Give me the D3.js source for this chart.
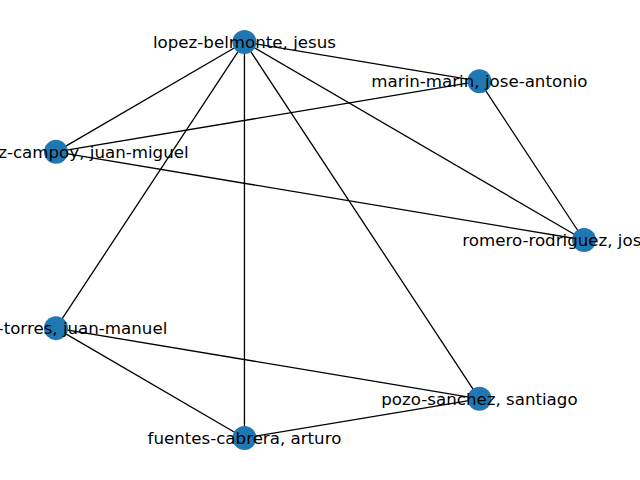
<!DOCTYPE html>
<html>
<head>
<meta charset="utf-8">
<script src="https://cdn.jsdelivr.net/npm/d3@7"></script>
<style>
  body { margin: 0; background: #fff; }
  text { font-family: "DejaVu Sans", sans-serif; font-size: 16.67px; }
</style>
</head>
<body>
<div id="my_graph"></div>
<script>
// nodes (circular layout positions)
const names = [
  "romero-rodriguez, jose-maria",
  "marin-marin, jose-antonio",
  "lopez-belmonte, jesus",
  "fernandez-campoy, juan-miguel",
  "trujillo-torres, juan-manuel",
  "fuentes-cabrera, arturo",
  "pozo-sanchez, santiago"
];
const nodeX = [1.0, 0.6235, -0.2225, -0.9010, -0.9010, -0.2225, 0.6235];
const nodeY = [0.0, 0.7818, 0.9749, 0.4339, -0.4339, -0.9749, -0.7818];

// edges
const edgeSource = [
  "lopez-belmonte, jesus", "lopez-belmonte, jesus", "lopez-belmonte, jesus",
  "lopez-belmonte, jesus", "lopez-belmonte, jesus", "lopez-belmonte, jesus",
  "marin-marin, jose-antonio", "marin-marin, jose-antonio",
  "fernandez-campoy, juan-miguel",
  "trujillo-torres, juan-manuel", "trujillo-torres, juan-manuel",
  "fuentes-cabrera, arturo"
];
const edgeTarget = [
  "marin-marin, jose-antonio", "fernandez-campoy, juan-miguel", "romero-rodriguez, jose-maria",
  "trujillo-torres, juan-manuel", "fuentes-cabrera, arturo", "pozo-sanchez, santiago",
  "fernandez-campoy, juan-miguel", "romero-rodriguez, jose-maria",
  "romero-rodriguez, jose-maria",
  "pozo-sanchez, santiago", "fuentes-cabrera, arturo",
  "pozo-sanchez, santiago"
];

const width = 640, height = 480;

const nodes = names.map((n, i) => ({ name: n, x: nodeX[i], y: nodeY[i] }));
const byName = new Map(nodes.map(d => [d.name, d]));
const links = edgeSource.map((s, i) => ({ source: byName.get(s), target: byName.get(edgeTarget[i]) }));

const svg = d3.select("#my_graph")
  .append("svg")
    .attr("width", width)
    .attr("height", height);

// pad the data range like matplotlib's autoscale does
const pad = 0.106;
const xExt = d3.extent(nodes, d => d.x),
      yExt = d3.extent(nodes, d => d.y);
const xPad = (xExt[1] - xExt[0]) * pad,
      yPad = (yExt[1] - yExt[0]) * pad;

const x = d3.scaleLinear()
  .domain([xExt[0] - xPad, xExt[1] + xPad])
  .range([0, width]);

const y = d3.scaleLinear()
  .domain([yExt[0] - yPad, yExt[1] + yPad])
  .range([height, 0]);

// edges
svg.append("g")
  .selectAll("line")
  .data(links)
  .enter()
  .append("line")
    .attr("x1", d => x(d.source.x))
    .attr("y1", d => y(d.source.y))
    .attr("x2", d => x(d.target.x))
    .attr("y2", d => y(d.target.y))
    .attr("stroke", "black")
    .attr("stroke-width", 1.3);

// nodes
svg.append("g")
  .selectAll("circle")
  .data(nodes)
  .enter()
  .append("circle")
    .attr("cx", d => x(d.x))
    .attr("cy", d => y(d.y))
    .attr("r", 12)
    .style("fill", "#1f78b4");

// labels
svg.append("g")
  .selectAll("text")
  .data(nodes)
  .enter()
  .append("text")
    .attr("x", d => x(d.x))
    .attr("y", d => y(d.y))
    .attr("dy", "0.35em")
    .attr("text-anchor", "middle")
    .attr("fill", "black")
    .text(d => d.name);
</script>
</body>
</html>
